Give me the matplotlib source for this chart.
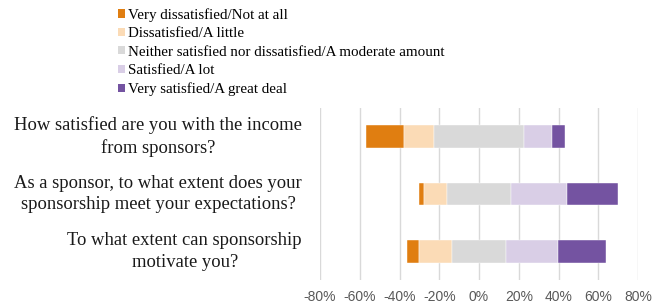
import matplotlib
matplotlib.use("Agg")
import matplotlib.pyplot as plt
import numpy as np
from matplotlib.patches import Patch
from matplotlib.ticker import FuncFormatter

questions = [
    "How satisfied are you with the income\nfrom sponsors?",
    "As a sponsor, to what extent does your\nsponsorship meet your expectations?",
    "To what extent can sponsorship\nmotivate you?",
]
levels = [
    "Very dissatisfied/Not at all",
    "Dissatisfied/A little",
    "Neither satisfied nor dissatisfied/A moderate amount",
    "Satisfied/A lot",
    "Very satisfied/A great deal",
]
very_neg = [19.3, 2.7, 6.0]
neg = [15.0, 11.4, 16.6]
neutral = [45.1, 32.2, 27.0]
pos = [14.4, 28.3, 26.3]
very_pos = [6.4, 25.4, 24.2]
xticks = [-80, -60, -40, -20, 0, 20, 40, 60, 80]

colors = ["#E07E11", "#FBDBB6", "#D9D9D9", "#D9CEE6", "#7453A1"]

serif = ["Liberation Serif", "DejaVu Serif"]
sans = ["Liberation Sans", "DejaVu Sans"]

fig = plt.figure(figsize=(6.6, 3.04), dpi=100)
ax = fig.add_axes([320/660, 1-280/304, 318/660, 172/304])

series = [very_neg, neg, neutral, pos, very_pos]
y = np.arange(len(questions))
starts = -(np.array(very_neg) + np.array(neg) + np.array(neutral) / 2)
left = starts.copy()
for vals, c in zip(series, colors):
    vals = np.array(vals)
    ax.barh(y, vals, left=left, height=0.4, color=c, edgecolor="white", linewidth=0.3)
    left = left + vals

ax.set_ylim(2.5, -0.5)
ax.set_xlim(-80, 80)
ax.set_xticks(xticks)
ax.xaxis.set_major_formatter(FuncFormatter(lambda v, p: f"{int(v)}%"))
ax.grid(axis="x", color="#D9D9D9", linewidth=1)
ax.set_axisbelow(True)
for s in ax.spines.values():
    s.set_visible(False)
ax.tick_params(axis="x", length=0, pad=7, labelsize=10, labelcolor="#595959")
for t in ax.get_xticklabels():
    t.set_family(sans)
ax.set_yticks([])
for yi, q in zip(y, questions):
    ax.text(-80 - 18 * 160 / 318, yi, q, ha="right", va="center", multialignment="center",
            fontsize=13.4, family=serif, color="#1a1a1a", linespacing=1.38)

handles = [Patch(facecolor=c, edgecolor="none") for c in colors]
fig.legend(handles, levels, loc="upper left", bbox_to_anchor=(118/660, 1 - 8/304),
           frameon=False, prop={"family": serif, "size": 10.8},
           handlelength=0.47, handleheight=0.47, handletextpad=0.2, labelspacing=0.36,
           borderaxespad=0, borderpad=0)

fig.savefig("out.png", dpi=100)
